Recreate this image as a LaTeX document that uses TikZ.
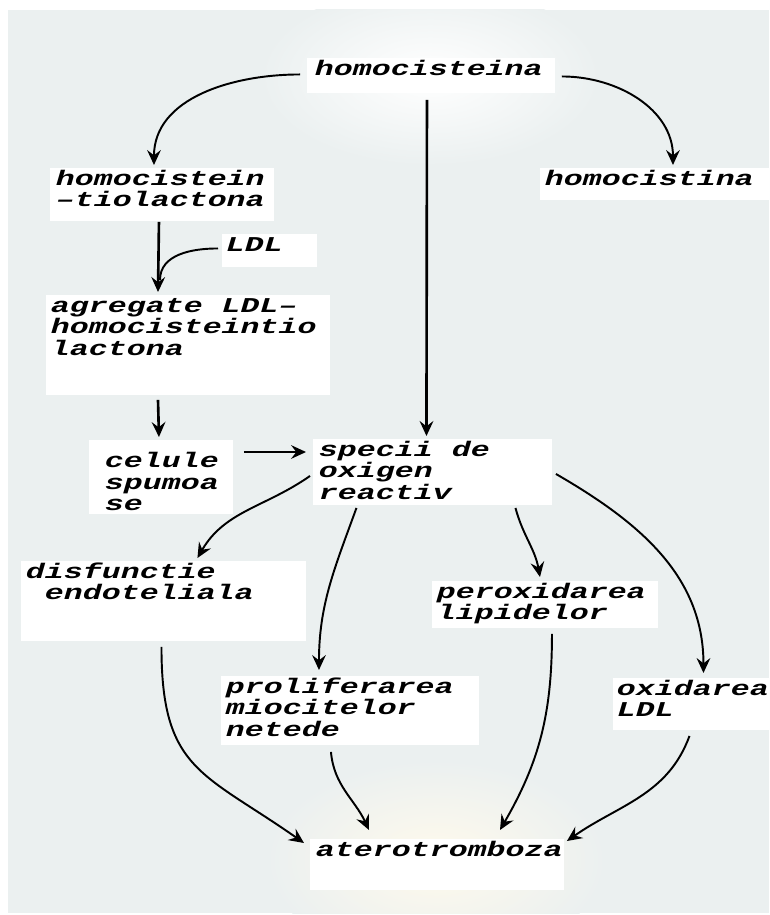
\documentclass[tikz,border=0pt]{standalone}
\usepackage{fontspec}
\usepackage{tikz}
\usetikzlibrary{arrows.meta}
\usetikzlibrary{calc}
\newfontfamily\flowfont[FakeStretch=1.5]{Liberation Mono}
\newdimen\pxu
\pxu=0.02cm
% white box: [text indent]{width}{height}{lines}
\newcommand{\entry}[4][5]{\parbox[t][#3\pxu][t]{#2\pxu}{\leftskip=#1\pxu\rule{0pt}{17.5\pxu}#4}}
\tikzset{arrowto/.style = {-{Stealth[length=8.5pt, width=7.8pt, inset=3pt]}}}
\tikzset{box/.style = {fill=white, inner sep=0pt, anchor=north west,
                       font=\flowfont\bfseries\itshape\fontsize{12}{12.2}\selectfont}}
\definecolor{panel}{RGB}{235,240,240}
\definecolor{glow}{RGB}{255,250,236}

\begin{document}
\begin{tikzpicture}[x=0.02cm, y=-0.02cm, line width=1.1pt]
    \useasboundingbox (0,0) rectangle (769,915);
    \fill [panel] (8,10) rectangle (769,913);
    \begin{scope}
      \clip (8,10) rectangle (769,913);
      \shade [inner color=white, outer color=panel] (430,76) ellipse (170 and 90);
      \shade [inner color=glow, outer color=panel] (436,860) ellipse (170 and 100);
    \end{scope}

    \node [box] (hcy) at (306,57) {\entry[8]{248}{35}{homocisteina}};
    \node [box] (htl) at (49,167) {\entry[6]{224}{53}{homocistein\\–tiolactona}};
    \node [box] (hct) at (539,167) {\entry{230}{32}{homocistina}};
    \node [box] (ldl) at (221,233) {\entry[4]{95}{33}{LDL}};
    \node [box] (agr) at (45,294) {\entry{284}{100}{agregate LDL–\\homocisteintio\\lactona}};
    \node [box] (cel) at (88,439) {\entry[16]{144}{74}{\rule{0pt}{28\pxu}celule\\spumoa\\se}};
    \node [box] (ros) at (312,438) {\entry[6]{239}{66}{specii de\\oxigen\\reactiv}};
    \node [box] (dis) at (20,560) {\entry{285}{80}{disfunctie\\\hspace*{19\pxu}endoteliala}};
    \node [box] (per) at (431,580) {\entry{226}{47}{peroxidarea\\lipidelor}};
    \node [box] (pro) at (220,675) {\entry{258}{69}{proliferarea\\miocitelor\\netede}};
    \node [box] (oxi) at (612,677) {\entry[4]{157}{52}{oxidarea\\LDL}};
    \node [box] (atr) at (309,838) {\entry[6]{254}{51}{aterotromboza}};

    \draw [arrowto] ($(hcy.west)+(-6,-1)$) to [out=180, in=90] ($(htl.north)+(-8,-2)$);
    \draw [arrowto] ($(hcy.east)+(6,1)$) to [out=0, in=90] ($(hct.north)+(18,-2)$);
    \draw [arrowto, line width=1.5pt] ($(hcy.south)+(-4,6)$) -- ($(ros.north)+(-6,-2)$);
    \draw [arrowto, line width=1.5pt] ($(htl.south)+(-3,0)$) -- ($(agr.north west)+(113,-2)$);
    \draw ($(ldl.west)+(-3,-2)$) to [out=180, in=90] ($(agr.north west)+(115,-14)$);
    \draw [arrowto, line width=1.5pt] ($(agr.south west)+(113,4)$) -- ($(cel.north)+(-2,-2)$);
    \draw [arrowto] ($(cel.north east)+(10,13)$) -- ($(ros.north west)+(-6,14)$);

    \draw [arrowto] ($(ros.west)+(-2,4)$) to [out=215, in=60] ($(dis.north)+(34,-2)$);
    \draw [arrowto] ($(ros.south)+(-76,2)$) to [out=250, in=90] ($(pro.north)+(-31,-5)$);
    \draw [arrowto] ($(ros.south)+(83,2)$) to [out=-75, in=100] ($(per.north)+(-5,-3)$);
    \draw [arrowto] ($(ros.east)+(3,2)$) to [out=-30, in=90] ($(oxi.north)+(12,-4)$);

    \draw [arrowto] ($(dis.south)+(-2,5)$) to [out=-90, in=145, looseness=1.3] ($(atr.north west)+(-5,5)$);
    \draw [arrowto] ($(pro.south)+(-19,6)$) to [out=-85, in=115] ($(atr.north west)+(60,-8)$);
    \draw [arrowto] ($(per.south)+(7,5)$) to [out=-90, in=60] ($(atr.north west)+(191,-8)$);
    \draw [arrowto] ($(oxi.south)+(-2,5)$) to [out=-110, in=35] ($(atr.north east)+(2,3)$);
  \end{tikzpicture}
\end{document}
